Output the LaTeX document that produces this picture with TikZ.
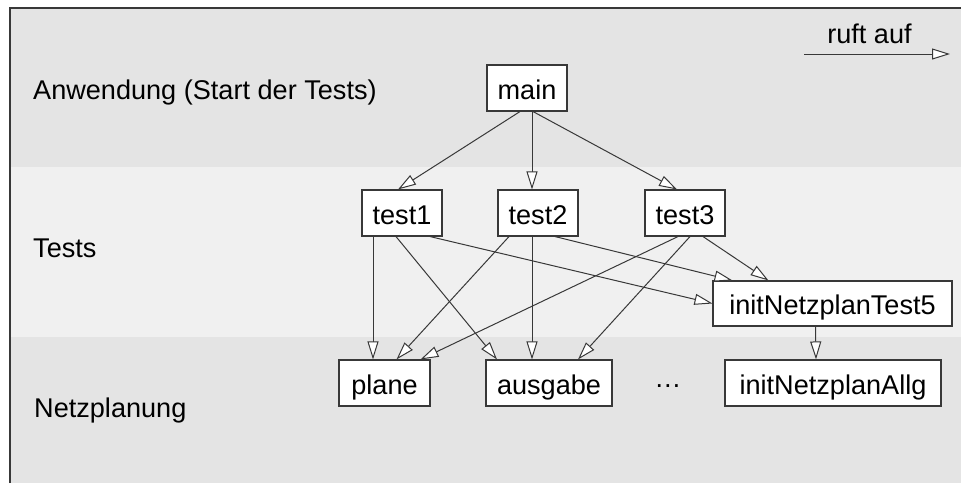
\documentclass[tikz,border=0pt]{standalone}
\usepackage{fontspec}
\setmainfont{Liberation Sans}
\usetikzlibrary{arrows.meta}
\definecolor{banddark}{HTML}{E4E4E4}
\definecolor{bandlight}{HTML}{F0F0F0}
\definecolor{linegray}{HTML}{383838}
\tikzset{
  lbl/.style={font=\fontsize{27.1pt}{32pt}\selectfont, inner sep=0pt, anchor=base west},
  box/.style={draw=linegray, line width=1.1pt, fill=white, font=\fontsize{27.1pt}{32pt}\selectfont,
    inner xsep=0pt, inner ysep=0pt, text height=22pt, text depth=0pt, minimum height=46pt},
  call/.style={draw=linegray, line width=1pt, -{Triangle[length=18pt,width=11pt,fill=white]}}
}
\begin{document}
\begin{tikzpicture}[x=1pt,y=-1pt]
\useasboundingbox (0,0) rectangle (961,483);
% bands
\fill[banddark] (10,8) rectangle (961,167);
\fill[bandlight] (10,167) rectangle (961,337);
\fill[banddark] (10,337) rectangle (961,483);
\draw[linegray, line width=1.1pt] (10,483) -- (10,8) -- (961,8);
% band labels
\node[lbl] (lapp) at (33,99) {Anwendung (Start der Tests)};
\node[lbl] (ltests) at (33,257) {Tests};
\node[lbl] (lnetz) at (34,417) {Netzplanung};
% legend
\node[lbl, anchor=base] (legtext) at (869.5,43) {ruft auf};
\coordinate (la) at (804,54);
\coordinate (lb) at (950,54);
\draw[call] (la) -- (lb);
% nodes
\node[box, minimum width=80pt] (main) at (527,88) {main};
\node[box, minimum width=80pt] (test1) at (402,213) {test1};
\node[box, minimum width=80pt] (test2) at (538,213) {test2};
\node[box, minimum width=80pt] (test3) at (685,213) {test3};
\node[box, minimum width=239pt, minimum height=45pt] (init5) at (832.5,303.5) {initNetzplanTest5};
\node[box, minimum width=91pt] (plane) at (384.5,383) {plane};
\node[box, minimum width=126pt] (ausgabe) at (549,383) {ausgabe};
\node[box, minimum width=216pt] (allg) at (833,383) {initNetzplanAllg};
\node[lbl, anchor=base] (dots) at (668,387.5) {…};
% edges
\draw[call] ([xshift=-7pt]main.south) -- ([xshift=-4pt]test1.north);
\draw[call] ([xshift=5pt]main.south) -- ([xshift=-6pt]test2.north);
\draw[call] ([xshift=6pt]main.south) -- ([xshift=-8pt]test3.north);
\draw[call] ([xshift=-29pt]test1.south) -- ([xshift=-11.5pt]plane.north);
\draw[call] ([xshift=-6pt]test1.south) -- ([xshift=-52pt]ausgabe.north);
\draw[call] ([xshift=28pt]test1.south) -- (init5.west);
\draw[call] ([xshift=-29pt]test2.south) -- ([xshift=12pt]plane.north);
\draw[call] ([xshift=-6pt]test2.south) -- ([xshift=-17pt]ausgabe.north);
\draw[call] ([xshift=17pt]test2.south) -- ([xshift=20pt]init5.north west);
\draw[call] ([xshift=-7pt]test3.south) -- ([xshift=36pt]plane.north);
\draw[call] ([xshift=5pt]test3.south) -- ([xshift=29pt]ausgabe.north);
\draw[call] ([xshift=18pt]test3.south) -- ([xshift=56pt]init5.north west);
\draw[call] ([xshift=-17pt]init5.south) -- ([xshift=-17pt]allg.north);
\end{tikzpicture}
\end{document}
